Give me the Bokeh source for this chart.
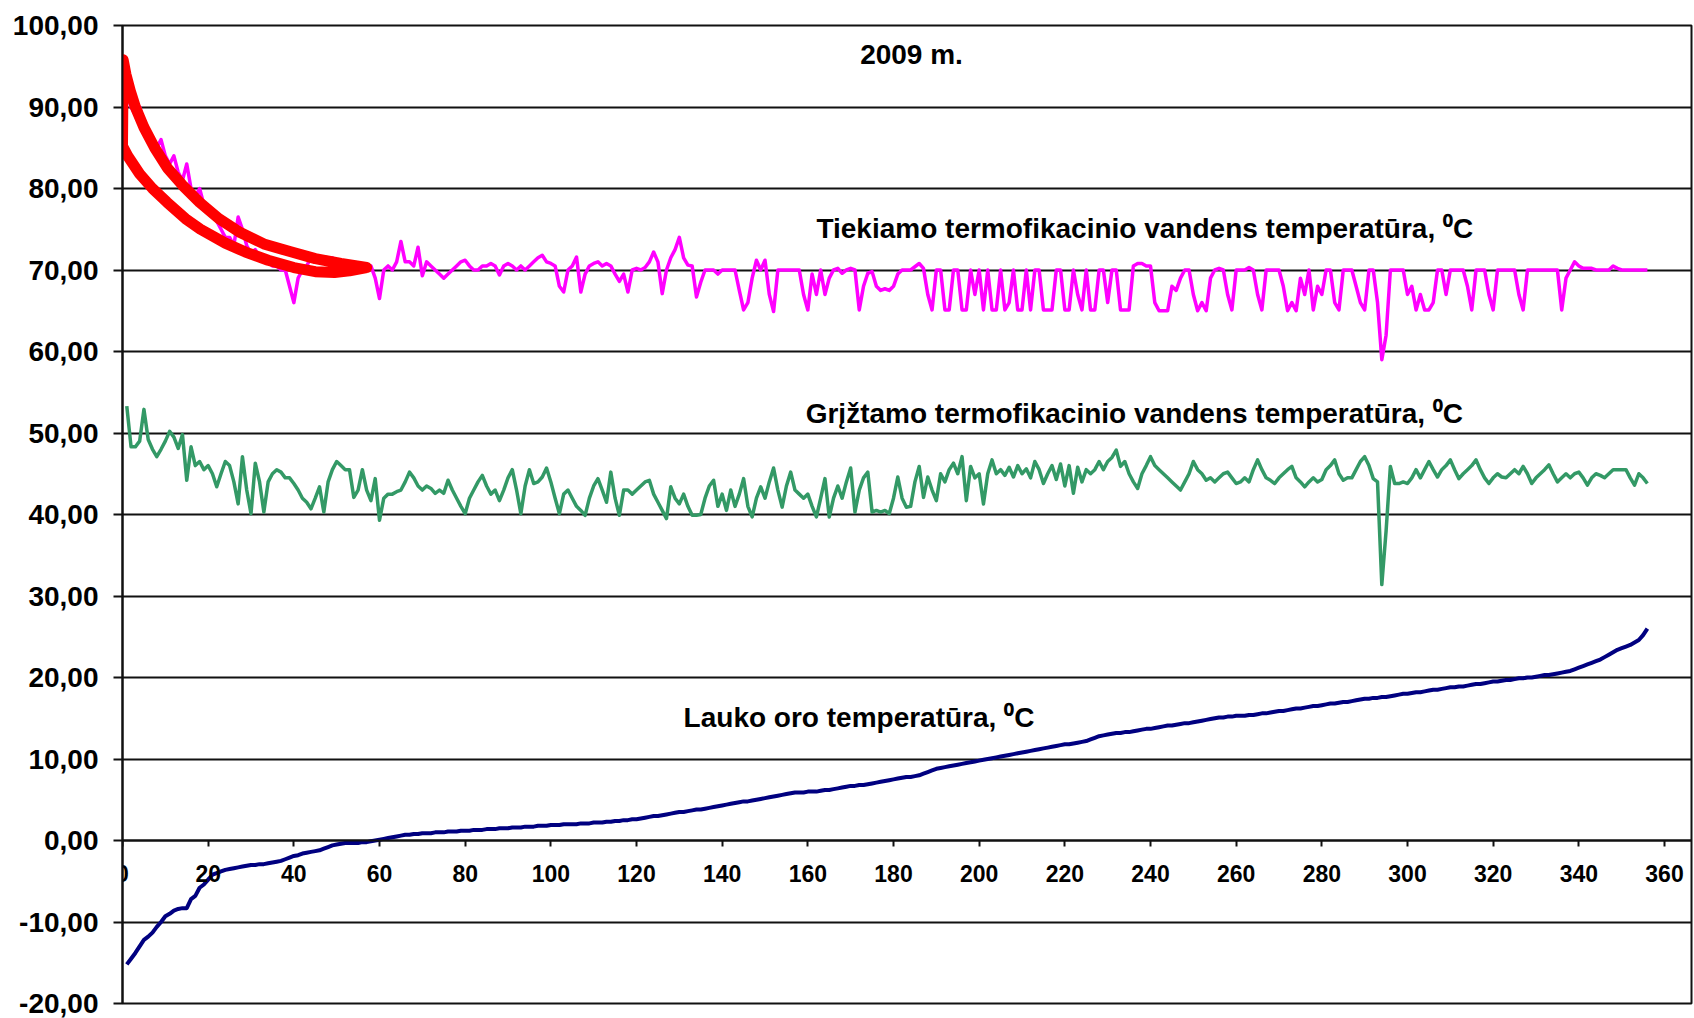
from bokeh.plotting import figure
from bokeh.models import Range1d, FixedTicker, CustomJSTickFormatter, Label
from bokeh.embed import file_html
from bokeh.resources import INLINE

# ---------------- data ----------------
supply = [
    92, 90, 89, 90, 88, 87, 86, 85, 86, 84,
    83, 84, 82, 81, 83, 80, 79, 80, 78, 77,
    77, 76, 75, 74, 74, 73, 76.5, 75, 73, 72,
    72.5, 71.5, 71, 71, 70.5, 70.5, 70, 70, 68, 66,
    69, 70, 70.5, 71.5, 71, 71.5, 71, 71, 71.5, 71,
    71, 70.5, 71, 70.5, 70.5, 70, 70, 70.5, 69, 66.5,
    70, 70.5, 70, 71, 73.5, 71, 71, 70.5, 72.8, 69.3,
    71, 70.5, 70, 69.5, 69, 69.5, 70, 70.5, 71, 71.2,
    70.5, 70, 70, 70.5, 70.5, 70.8, 70.5, 69.4, 70.5, 70.8,
    70.5, 70, 70.5, 70, 70.5, 71, 71.5, 71.8, 71, 70.8,
    70.5, 68, 67.3, 70, 70.5, 71.6, 67.3, 69.5, 70.5, 70.8,
    71, 70.5, 70.8, 70.5, 69.5, 68.6, 69.5, 67.3, 70, 70.2,
    70, 70.3, 71, 72.2, 71, 67.1, 70, 71.5, 72.5, 74,
    71.5, 70.6, 70.5, 66.7, 68.5, 70, 70, 70, 69.5, 70,
    70, 70, 70, 67.5, 65.1, 66, 69, 71.2, 70, 71.2,
    67, 64.9, 70, 70, 70, 70, 70, 70, 67, 65.1,
    69.5, 67, 70, 67, 69, 70, 70.2, 69.6, 70, 70.2,
    70, 65.1, 68, 69.6, 69.8, 68, 67.5, 67.7, 67.5, 68,
    69.5, 70, 70, 70, 70.4, 70.8, 70.2, 67, 65.1, 70,
    70, 65.1, 65.1, 70, 70, 65.1, 65.1, 70, 67, 70,
    65.1, 70, 65.1, 65.1, 70, 65.1, 66, 70, 65.1, 65.1,
    70, 65.1, 70, 70, 65.1, 65.1, 65.1, 70, 70, 65.1,
    65.1, 70, 67, 65.1, 70, 65.1, 65.1, 70, 70, 66,
    70, 70, 65.1, 65.1, 65.1, 70.5, 70.8, 70.8, 70.5, 70.5,
    66, 65, 65, 65, 68, 67.5, 69, 70, 70, 67,
    65, 66, 65, 69, 70, 70.2, 70, 67, 65.1, 70,
    70, 70, 70.3, 70, 67, 65.1, 70, 70, 70, 70,
    68, 65, 66, 65, 69, 67, 70, 65.1, 68, 67,
    70, 70, 66, 65.1, 70, 70, 70, 68, 66, 65.1,
    70, 70, 66, 59, 62, 70, 70, 70, 70, 67,
    68, 65.1, 67, 65.1, 65.1, 66, 70, 70, 67, 70,
    70, 70, 70, 68, 65.1, 70, 70, 70, 67, 65.1,
    70, 70, 70, 70, 70, 67, 65.1, 70, 70, 70,
    70, 70, 70, 70, 70, 65.1, 69, 70, 71, 70.5,
    70.2, 70.2, 70.2, 70, 70, 70, 70, 70.5, 70.2, 70,
    70, 70, 70, 70, 70, 70,
]

return_temp = [
    53.3, 48.3, 48.3, 49, 52.9, 49.2, 48, 47.1, 48, 49,
    50.2, 49.5, 48.1, 49.8, 44.2, 48.3, 46, 46.5, 45.5, 46,
    45, 43.4, 45, 46.5, 46, 44, 41.3, 47.1, 43, 40.1,
    46.3, 44, 40.3, 44, 45, 45.5, 45.2, 44.5, 44.5, 43.8,
    43, 42, 41.5, 40.7, 42, 43.4, 40.3, 44, 45.5, 46.5,
    46, 45.5, 45.5, 42.1, 43, 45.5, 43, 41.7, 44.4, 39.3,
    42, 42.5, 42.5, 42.8, 43, 44, 45.2, 44.5, 43.5, 43,
    43.5, 43.2, 42.6, 43, 42.6, 44.2, 43, 42, 41, 40.1,
    42, 43, 44, 44.8, 43.5, 42.5, 43, 41.7, 43, 44.5,
    45.5, 43, 40.1, 43.5, 45.5, 43.8, 44, 44.6, 45.7, 44,
    42, 40.1, 42.5, 43, 42, 41, 40.5, 39.9, 42, 43.5,
    44.4, 43, 41.5, 45.2, 42, 39.9, 43, 43, 42.5, 43,
    43.5, 44, 44.2, 42.5, 41.5, 40.5, 39.5, 43.4, 42, 41.3,
    42.5, 41, 39.9, 39.9, 40, 42, 43.5, 44.2, 41, 42.5,
    40.5, 43, 41, 42.5, 44.4, 41, 39.7, 42, 43.4, 42,
    44, 45.7, 43, 40.9, 43.5, 45.2, 43, 42.5, 42, 42.5,
    41, 39.7, 42, 44.4, 39.7, 42, 43.5, 42, 44, 45.7,
    40.3, 43, 44.5, 45.2, 40.3, 40.5, 40.3, 40.5, 40.1, 42,
    44.6, 42, 40.9, 41, 44, 45.9, 42.1, 44.6, 43, 41.7,
    45, 44, 45.5, 46.3, 45, 47.1, 41.7, 45.9, 44.5, 45,
    41.3, 45, 46.7, 45, 45.5, 44.8, 45.8, 44.6, 46, 45,
    45.6, 44.5, 46.5, 45.5, 43.8, 45, 46, 44.3, 46.2, 43.5,
    46, 42.6, 45.8, 44, 45.5, 45, 45.5, 46.5, 45.5, 46.5,
    47, 47.9, 45.9, 46.5, 45, 44, 43.2, 45, 46, 47.1,
    46, 45.5, 45, 44.5, 44, 43.5, 43, 44, 45, 46.5,
    45.5, 45, 44.2, 44.5, 44, 44.5, 45, 45.2, 44.5, 43.8,
    44, 44.5, 44, 45.5, 46.7, 45.5, 44.5, 44.2, 43.8, 44.5,
    45, 45.5, 45.9, 44.5, 44, 43.4, 44, 44.5, 44, 44.3,
    45.5, 46, 46.7, 45, 44.2, 44.5, 44.5, 45.5, 46.5, 47.1,
    46, 44.4, 44, 31.4, 38, 45.9, 43.8, 43.8, 44, 43.8,
    44.5, 45.5, 44.5, 45.5, 46.5, 45.5, 44.6, 45.5, 46, 46.7,
    45.5, 44.4, 45, 45.5, 46, 46.7, 45.5, 44.5, 43.8, 44.5,
    45, 44.6, 44.5, 45, 45.5, 45, 45.9, 45, 43.8, 44.5,
    45, 45.5, 46.1, 45, 44, 44.5, 45, 44.5, 45, 45.2,
    44.5, 43.6, 44.5, 45, 44.8, 44.5, 45, 45.5, 45.5, 45.5,
    45.5, 44.5, 43.6, 45, 44.5, 43.8,
]

outdoor = [
    -15.2, -14.5, -13.8, -13.0, -12.2, -11.8, -11.3, -10.6, -10.0, -9.3,
    -9.0, -8.6, -8.4, -8.3, -8.3, -7.2, -6.8, -5.8, -5.4, -4.8,
    -4.2, -4.0, -3.8, -3.6, -3.5, -3.4, -3.3, -3.2, -3.1, -3.0,
    -3.0, -2.9, -2.9, -2.8, -2.7, -2.6, -2.5, -2.3, -2.1, -1.9,
    -1.8, -1.6, -1.5, -1.4, -1.3, -1.2, -1.0, -0.8, -0.6, -0.5,
    -0.4, -0.3, -0.3, -0.3, -0.3, -0.2, -0.2, -0.1, 0.0, 0.1,
    0.2, 0.3, 0.4, 0.5, 0.6, 0.7, 0.7, 0.8, 0.8, 0.9,
    0.9, 0.9, 1.0, 1.0, 1.0, 1.1, 1.1, 1.1, 1.2, 1.2,
    1.2, 1.3, 1.3, 1.3, 1.4, 1.4, 1.4, 1.5, 1.5, 1.5,
    1.6, 1.6, 1.6, 1.7, 1.7, 1.7, 1.8, 1.8, 1.8, 1.9,
    1.9, 1.9, 2.0, 2.0, 2.0, 2.0, 2.1, 2.1, 2.1, 2.2,
    2.2, 2.2, 2.3, 2.3, 2.4, 2.4, 2.5, 2.5, 2.6, 2.6,
    2.7, 2.8, 2.9, 3.0, 3.0, 3.1, 3.2, 3.3, 3.4, 3.5,
    3.5, 3.6, 3.7, 3.8, 3.8, 3.9, 4.0, 4.1, 4.2, 4.3,
    4.4, 4.5, 4.6, 4.7, 4.8, 4.8, 4.9, 5.0, 5.1, 5.2,
    5.3, 5.4, 5.5, 5.6, 5.7, 5.8, 5.9, 5.9, 5.9, 6.0,
    6.0, 6.0, 6.1, 6.2, 6.2, 6.3, 6.4, 6.5, 6.6, 6.7,
    6.7, 6.8, 6.8, 6.9, 7.0, 7.1, 7.2, 7.3, 7.4, 7.5,
    7.6, 7.7, 7.8, 7.8, 7.9, 8.0, 8.2, 8.4, 8.6, 8.8,
    8.9, 9.0, 9.1, 9.2, 9.3, 9.4, 9.5, 9.6, 9.7, 9.8,
    9.9, 10.0, 10.1, 10.2, 10.3, 10.4, 10.5, 10.6, 10.7, 10.8,
    10.9, 11.0, 11.1, 11.2, 11.3, 11.4, 11.5, 11.6, 11.7, 11.8,
    11.8, 11.9, 12.0, 12.1, 12.2, 12.4, 12.6, 12.8, 12.9, 13.0,
    13.1, 13.2, 13.2, 13.3, 13.3, 13.4, 13.5, 13.6, 13.7, 13.7,
    13.8, 13.9, 14.0, 14.1, 14.1, 14.2, 14.3, 14.4, 14.4, 14.5,
    14.6, 14.7, 14.8, 14.9, 15.0, 15.1, 15.1, 15.2, 15.2, 15.3,
    15.3, 15.3, 15.4, 15.4, 15.5, 15.6, 15.6, 15.7, 15.8, 15.9,
    15.9, 16.0, 16.1, 16.2, 16.2, 16.3, 16.4, 16.5, 16.5, 16.6,
    16.7, 16.8, 16.8, 16.9, 17.0, 17.0, 17.1, 17.2, 17.3, 17.4,
    17.4, 17.5, 17.5, 17.6, 17.6, 17.7, 17.8, 17.9, 18.0, 18.0,
    18.1, 18.2, 18.2, 18.3, 18.4, 18.5, 18.5, 18.6, 18.7, 18.8,
    18.8, 18.9, 18.9, 19.0, 19.1, 19.2, 19.2, 19.3, 19.4, 19.5,
    19.5, 19.6, 19.7, 19.7, 19.8, 19.9, 19.9, 20.0, 20.0, 20.1,
    20.2, 20.3, 20.3, 20.4, 20.5, 20.6, 20.7, 20.8, 21.0, 21.2,
    21.4, 21.6, 21.8, 22.0, 22.2, 22.5, 22.8, 23.1, 23.4, 23.6,
    23.8, 24.0, 24.3, 24.6, 25.2, 26.0,
]

# red hand-drawn loop (annotation), data coordinates
loop_x = [57, 51, 45, 39.5, 33, 27.5, 22.5, 18, 14, 10.5, 7.5, 5, 3, 1.8, 0.8, 0.15,
          0, 1.2, 4, 7, 10.4, 14.7, 18.2, 24, 28.7, 34, 40, 45, 49.5, 53, 57]
loop_y = [70.3, 70.8, 71.4, 72.2, 73.2, 74.6, 76.3, 78.3, 80.4, 82.5, 85, 87.5, 90, 92, 94, 95.8,
          85.2, 84, 81.8, 80, 78.3, 76.3, 75.0, 73.3, 72.2, 71.2, 70.3, 69.8, 69.7, 69.9, 70.3]

x_ticks = list(range(0, 361, 20))
y_ticks = list(range(-20, 101, 10))

title_text = "2009 m."
supply_label = "Tiekiamo termofikacinio vandens temperatūra, \u2070C"
return_label = "Grįžtamo termofikacinio vandens temperatūra, \u2070C"
outdoor_label = "Lauko oro temperatūra, \u2070C"

days_s = list(range(1, len(supply) + 1))
days_r = list(range(1, len(return_temp) + 1))
days_o = list(range(1, len(outdoor) + 1))

FONT = "Liberation Sans"

# ---------------- figure ----------------
p = figure(width=1694, height=1018, output_backend="svg", toolbar_location=None,
           title=None,
           x_range=Range1d(0, 366.3), y_range=Range1d(-20, 100),
           min_border_left=122, min_border_right=3, min_border_top=25, min_border_bottom=15)

p.background_fill_color = "white"
p.border_fill_color = "white"
p.outline_line_color = "#111111"
p.outline_line_width = 2

# grid
p.xgrid.visible = False
p.ygrid.ticker = FixedTicker(ticks=y_ticks)
p.ygrid.grid_line_color = "#111111"
p.ygrid.grid_line_width = 2

# x axis crossing at y = 0
xa = p.xaxis[0]
xa.fixed_location = 0
xa.ticker = FixedTicker(ticks=x_ticks)
xa.axis_line_color = "#111111"
xa.axis_line_width = 2
xa.major_tick_out = 6
xa.major_tick_in = 0
xa.major_tick_line_width = 2
xa.major_tick_line_color = "#111111"
xa.minor_tick_out = 0
xa.minor_tick_in = 0
xa.major_label_standoff = 18
xa.major_label_text_font = FONT
xa.major_label_text_font_style = "bold"
xa.major_label_text_font_size = "23px"
xa.major_label_text_color = "#000000"

# y axis
ya = p.yaxis[0]
ya.ticker = FixedTicker(ticks=y_ticks)
ya.formatter = CustomJSTickFormatter(code="return tick.toFixed(2).replace('.', ',');")
ya.axis_line_color = "#111111"
ya.axis_line_width = 2
ya.major_tick_out = 9
ya.major_tick_in = 0
ya.major_tick_line_width = 2
ya.major_tick_line_color = "#111111"
ya.minor_tick_out = 0
ya.minor_tick_in = 0
ya.major_label_standoff = 15
ya.major_label_text_font = FONT
ya.major_label_text_font_style = "bold"
ya.major_label_text_font_size = "28px"
ya.major_label_text_color = "#000000"

# series
p.line(days_o, outdoor, line_color="#000080", line_width=4, line_join="round")
p.line(days_r, return_temp, line_color="#339966", line_width=3.5, line_join="round")
p.line(days_s, supply, line_color="#FF00FF", line_width=3.5, line_join="round")
p.line(loop_x, loop_y, line_color="#FF0000", line_width=11,
       line_join="round", line_cap="round")

# texts
p.add_layout(Label(x=184.2, y=96.45, text=title_text, text_align="center",
                   text_baseline="alphabetic", text_font=FONT, text_font_style="bold",
                   text_font_size="28px", text_color="#000000"))
p.add_layout(Label(x=162.0, y=75.1, text=supply_label, text_align="left",
                   text_baseline="alphabetic", text_font=FONT, text_font_style="bold",
                   text_font_size="28px", text_color="#000000"))
p.add_layout(Label(x=159.5, y=52.35, text=return_label, text_align="left",
                   text_baseline="alphabetic", text_font=FONT, text_font_style="bold",
                   text_font_size="28px", text_color="#000000"))
p.add_layout(Label(x=131.0, y=15.15, text=outdoor_label, text_align="left",
                   text_baseline="alphabetic", text_font=FONT, text_font_style="bold",
                   text_font_size="28px", text_color="#000000"))

open("out.html", "w").write(file_html(p, INLINE))
